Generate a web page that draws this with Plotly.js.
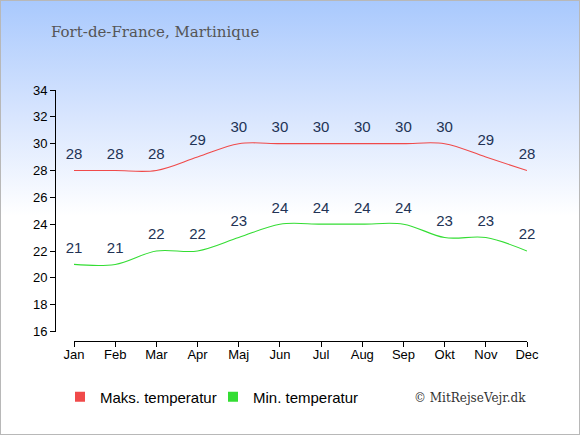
<!DOCTYPE html>
<html><head><meta charset="utf-8">
<script src="https://cdn.plot.ly/plotly-3.0.1.min.js"></script>
<style>
html,body{margin:0;padding:0;}
#wrap{width:580px;height:435px;box-sizing:border-box;border:1px solid #b8b8b8;
background:linear-gradient(to bottom,#a9c9fd 0px,#d6e4fe 110px,#ffffff 215px,#ffffff 435px);}
#chart{width:578px;height:433px;}
</style></head>
<body><div id="wrap"><div id="chart"></div></div>
<script>
const months = ["Jan","Feb","Mar","Apr","Maj","Jun","Jul","Aug","Sep","Okt","Nov","Dec"];
const maxTemp = [28,28,28,29,30,30,30,30,30,30,29,28];
const minTemp = [21,21,22,22,23,24,24,24,24,23,23,22];
const yTicks = [16,18,20,22,24,26,28,30,32,34];
const seriesNames = ["Maks. temperatur","Min. temperatur"];
const titleText = "Fort-de-France, Martinique";
const credit = "© MitRejseVejr.dk";

const red = "#f04a4a", green = "#33dd33", lbl = "#223355";
const W = 578, H = 433, ml = 40, mr = 40, mt = 60, mb = 60;
const pw = W - ml - mr, ph = H - mt - mb;
const px = x => (x - ml) / pw;
const py = y => (H - mb - y) / ph;

function series(vals, color) {
  return {x: months, y: vals, mode: "lines+markers+text", text: vals.map(String), textposition: "top center",
   textfont: {family: "Liberation Sans, Arial, sans-serif", size: 15, color: lbl},
   marker: {size: 11, color: "rgba(0,0,0,0)"},
   line: {color: color, width: 1.1, shape: "spline"}, showlegend: false, hoverinfo: "skip", cliponaxis: false};
}

const traces = [
  series(maxTemp, red),
  series(minTemp, green),
  {x: [null], y: [null], mode: "markers", name: seriesNames[0],
   marker: {symbol: "square", size: 10, color: red}},
  {x: [null], y: [null], mode: "markers", name: seriesNames[1],
   marker: {symbol: "square", size: 10, color: green}}
];

const layout = {
  width: W, height: H,
  margin: {l: ml, r: mr, t: mt, b: mb},
  paper_bgcolor: "rgba(0,0,0,0)", plot_bgcolor: "rgba(0,0,0,0)",
  font: {family: "Liberation Sans, Arial, sans-serif", size: 13, color: "#000"},
  title: {text: titleText, xref: "container", yref: "container", x: 50/W, xanchor: "left",
          y: 1 - 31/H, yanchor: "middle",
          font: {family: "DejaVu Serif, Georgia, serif", size: 15, color: "#555555"}},
  xaxis: {type: "category", range: [0, 11], domain: [px(73), px(526)],
          anchor: "free", position: py(340),
          showline: true, linecolor: "#000", linewidth: 1.3, showgrid: false, zeroline: false,
          ticks: "outside", ticklen: 5, tickcolor: "#000", tickfont: {size: 13}, ticklabelstandoff: -4},
  yaxis: {range: [16, 34], domain: [py(330.5), py(89)], tickvals: yTicks,
          anchor: "free", position: px(54),
          showline: true, linecolor: "#000", linewidth: 1.3, showgrid: false, zeroline: false,
          ticks: "outside", ticklen: 5, tickcolor: "#000", tickfont: {size: 13}},
  showlegend: true,
  legend: {orientation: "h", x: px(59), xanchor: "left", y: py(396), yanchor: "middle",
           font: {size: 15, color: "#000"}, bgcolor: "rgba(0,0,0,0)", itemwidth: 30,
           entrywidth: 108, entrywidthmode: "pixels", tracegroupgap: 0},
  annotations: [{text: credit, xref: "paper", yref: "paper", x: px(527), xanchor: "right",
                 y: py(397), yanchor: "middle", showarrow: false,
                 font: {family: "DejaVu Serif, Georgia, serif", size: 12, color: "#333"}}]
};
Plotly.newPlot("chart", traces, layout, {staticPlot: true, displayModeBar: false});
</script></body></html>
